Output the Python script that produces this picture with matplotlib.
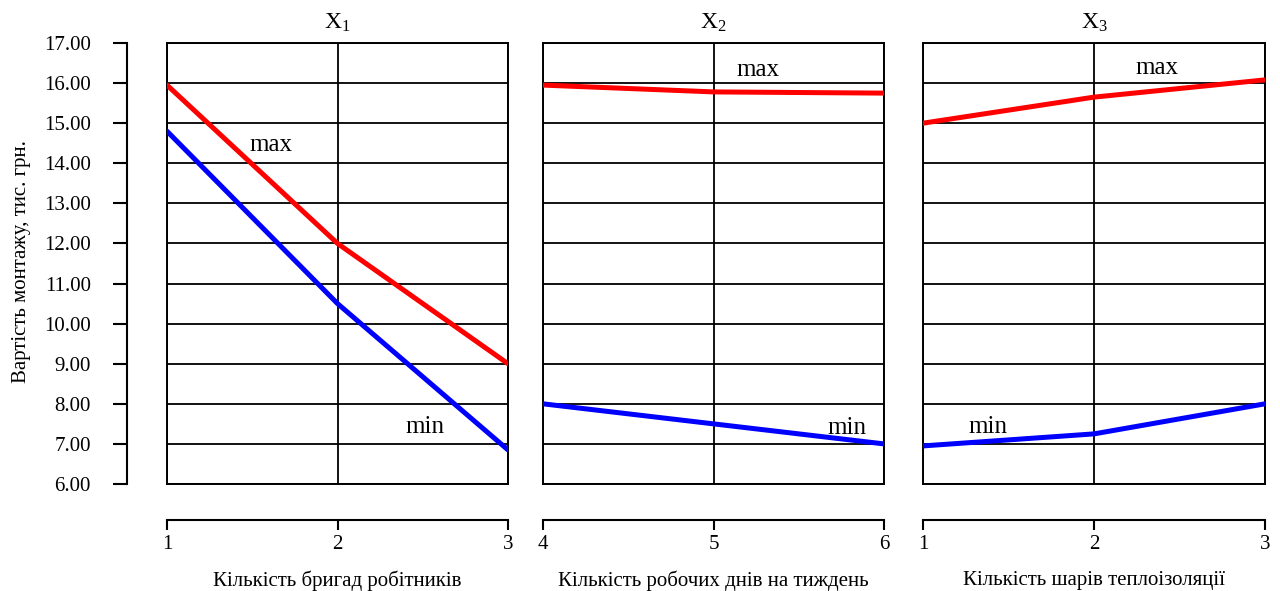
import matplotlib.pyplot as plt

plt.rcParams['font.family'] = ['Liberation Serif', 'DejaVu Serif']
plt.rcParams['mathtext.fontset'] = 'custom'
plt.rcParams['mathtext.rm'] = 'Liberation Serif'

# x values for each factor
x1 = [1, 2, 3]
x2 = [4, 5, 6]
x3 = [1, 2, 3]

# cost, thousand UAH
max1 = [15.95, 12.0, 9.0]
min1 = [14.8, 10.5, 6.85]
max2 = [15.95, 15.78, 15.75]
min2 = [8.0, 7.5, 7.0]
max3 = [15.0, 15.65, 16.08]
min3 = [6.95, 7.25, 8.0]

titles = [r'$\mathrm{X_1}$', r'$\mathrm{X_2}$', r'$\mathrm{X_3}$']
xlabels = ['Кількість бригад робітників',
           'Кількість робочих днів на тиждень',
           'Кількість шарів теплоізоляції']
yticks = list(range(6, 18))

# label positions (data coords) for max / min
max_pos = [(1.61, 14.46), (5.26, 16.33), (2.37, 16.38)]
min_pos = [(2.51, 7.42), (5.78, 7.4), (1.38, 7.42)]

panels = [(x1, max1, min1), (x2, max2, min2), (x3, max3, min3)]
lefts = [167, 543, 923]
widths = [341, 341, 342]

fig = plt.figure(figsize=(12.8, 5.91), dpi=100)

for i, (xs, ymax, ymin) in enumerate(panels):
    ax = fig.add_axes([lefts[i] / 1280, 107 / 591, widths[i] / 1280, 441 / 591])
    ax.plot(xs, ymax, color='#ff0000', lw=3.6, solid_capstyle='round', zorder=3)
    ax.plot(xs, ymin, color='#0000ff', lw=3.6, solid_capstyle='round', zorder=3)
    ax.set_xlim(xs[0], xs[-1])
    ax.set_ylim(6, 17)
    ax.set_xticks(xs)
    ax.set_yticks(yticks)
    ax.grid(True, color='black', lw=1.3)
    for s in ax.spines.values():
        s.set_linewidth(1.4)
    ax.tick_params(length=0, labelbottom=False, labelleft=False)

    # detached x axis below the box
    sx = ax.secondary_xaxis(-36 / 441)
    sx.set_xticks(xs)
    sx.spines['bottom'].set_linewidth(1.5)
    sx.tick_params(direction='out', length=7, width=1.5, labelsize=15, pad=4)
    sx.set_xlabel(xlabels[i], fontsize=15, labelpad=12)

    if i == 0:
        sy = ax.secondary_yaxis(-40 / 341)
        sy.set_yticks(yticks)
        sy.set_yticklabels(['%.2f' % v for v in yticks])
        sy.spines['left'].set_linewidth(1.5)
        sy.tick_params(direction='out', length=10, width=1.5, labelsize=15, pad=16)

    ax.set_title(titles[i], fontsize=17, pad=10)
    ax.text(*max_pos[i], 'max', fontsize=18, ha='center', va='center')
    ax.text(*min_pos[i], 'min', fontsize=18, ha='center', va='center')

fig.text(22 / 1280, 1 - 262 / 591, 'Вартість монтажу, тис. грн.',
         rotation=90, ha='center', va='center', fontsize=15)

fig.savefig('out.png', dpi=100)
